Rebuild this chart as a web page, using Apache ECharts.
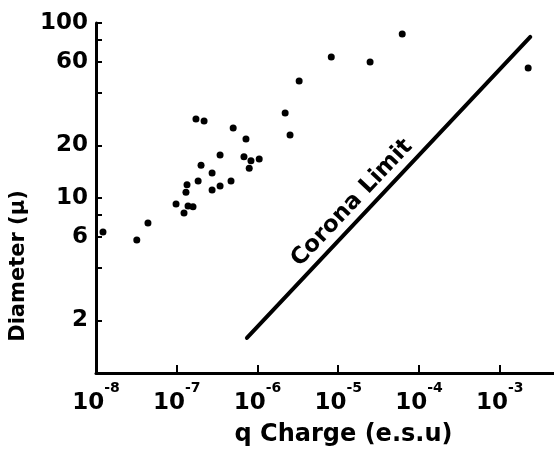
<!DOCTYPE html>
<html>
<head>
<meta charset="utf-8">
<script src="https://cdn.jsdelivr.net/npm/echarts@6/dist/echarts.min.js"></script>
<style>
html,body{margin:0;padding:0;background:#fff;}
#c{width:554px;height:458px;}
</style>
</head>
<body>
<div id="c"></div>
<script>
// Measured droplets: charge q (e.s.u) and diameter (micron)
const chargeValues = [1.22e-8, 3.2e-8, 4.4e-8, 9.8e-8, 1.23e-7, 1.38e-7, 1.59e-7, 1.34e-7, 1.30e-7, 1.84e-7,
  2.0e-7, 2.74e-7, 2.74e-7, 3.44e-7, 4.7e-7, 3.44e-7, 1.73e-7, 2.18e-7, 5.0e-7, 7.2e-7,
  6.8e-7, 8.3e-7, 1.05e-6, 7.9e-7, 2.2e-6, 2.53e-6, 3.28e-6, 8.2e-6, 2.48e-5, 6.2e-5, 2.25e-3];
const diameterValues = [6.4, 5.75, 7.2, 9.25, 8.2, 9.0, 8.9, 11.9, 10.8, 12.5,
  15.4, 13.9, 11.1, 11.7, 12.5, 17.6, 28.3, 27.5, 25.1, 21.7,
  17.2, 16.3, 16.7, 14.8, 30.6, 22.9, 46.6, 64, 59.8, 86.5, 55.3];
// Corona limit line end points
const coronaCharge = [7.4e-7, 2.39e-3];
const coronaDiameter = [1.585, 83.2];
const coronaLabel = 'Corona Limit';
// Axis ticks / labels
const xTickValues = [1e-8, 1e-7, 1e-6, 1e-5, 1e-4, 1e-3];
const yLabelValues = [2, 6, 10, 20, 60, 100];
const yTickValues = [2, 4, 6, 8, 10, 20, 40, 60, 80, 100];
const xTitle = 'q Charge (e.s.u)';
const yTitle = 'Diameter (μ)';

const FONT = 'DejaVu Sans';
const chart = echarts.init(document.getElementById('c'), null, {renderer: 'canvas'});

const option = {
  backgroundColor: '#ffffff',
  animation: false,
  grid: {left: 96, right: 0, top: 23, bottom: 85, containLabel: false, outerBoundsMode: 'none'},
  xAxis: {
    type: 'log', logBase: 10, min: 1e-8, max: 4.7e-3,
    name: xTitle, nameLocation: 'middle', nameGap: 50,
    nameTextStyle: {fontFamily: FONT, fontWeight: 'bold', fontSize: 24, color: '#000', padding: [0, 0, 0, 37]},
    axisLine: {lineStyle: {color: '#000', width: 3}},
    axisTick: {inside: true, length: 8, customValues: xTickValues, lineStyle: {color: '#000', width: 2}},
    splitLine: {show: false},
    minorTick: {show: false},
    axisLabel: {
      customValues: xTickValues,
      margin: 8,
      formatter: function (v) { return '{b|10}{s|-' + Math.abs(Math.round(Math.log10(v))) + '}'; },
      rich: {
        b: {fontFamily: FONT, fontWeight: 'bold', fontSize: 23, color: '#000', lineHeight: 44},
        s: {fontFamily: FONT, fontWeight: 'bold', fontSize: 14, color: '#000', verticalAlign: 'top', lineHeight: 14}
      }
    }
  },
  yAxis: {
    type: 'log', logBase: 10, min: 1, max: 100,
    name: yTitle, nameLocation: 'middle', nameGap: 63,
    nameTextStyle: {fontFamily: FONT, fontWeight: 'bold', fontSize: 21, color: '#000', padding: [0, 136, 0, 0]},
    axisLine: {lineStyle: {color: '#000', width: 3}},
    axisTick: {inside: true, length: 6, customValues: yTickValues, lineStyle: {color: '#000', width: 2}},
    splitLine: {show: false},
    minorTick: {show: false},
    axisLabel: {
      customValues: yLabelValues,
      margin: 8,
      fontFamily: FONT, fontWeight: 'bold', fontSize: 23, color: '#000'
    }
  },
  series: [
    {
      type: 'scatter',
      data: chargeValues.map((q, i) => [q, diameterValues[i]]),
      symbol: 'circle', symbolSize: 7,
      itemStyle: {color: '#000', opacity: 1},
      z: 3
    },
    {
      type: 'line',
      data: coronaCharge.map((q, i) => [q, coronaDiameter[i]]),
      showSymbol: false, symbol: 'none',
      lineStyle: {color: '#000', width: 4, cap: 'round'},
      z: 2
    }
  ]
};
chart.setOption(option);

// Place the "Corona Limit" caption along the line using the chart's own scales
const p0 = chart.convertToPixel({gridIndex: 0}, [coronaCharge[0], coronaDiameter[0]]);
const p1 = chart.convertToPixel({gridIndex: 0}, [coronaCharge[1], coronaDiameter[1]]);
const dx = p1[0] - p0[0], dy = p1[1] - p0[1];
const len = Math.hypot(dx, dy);
const ux = dx / len, uy = dy / len;
const nx = uy, ny = -ux;
const along = 0.412 * len, off = 16;
chart.setOption({
  graphic: [{
    type: 'text',
    x: p0[0] + ux * along + nx * off,
    y: p0[1] + uy * along + ny * off,
    rotation: Math.atan2(-dy, dx),
    style: {text: coronaLabel, fontFamily: FONT, fontWeight: 'bold', fontSize: 23, fill: '#000', align: 'center', verticalAlign: 'middle'},
    z: 10
  }]
});
</script>
</body>
</html>
